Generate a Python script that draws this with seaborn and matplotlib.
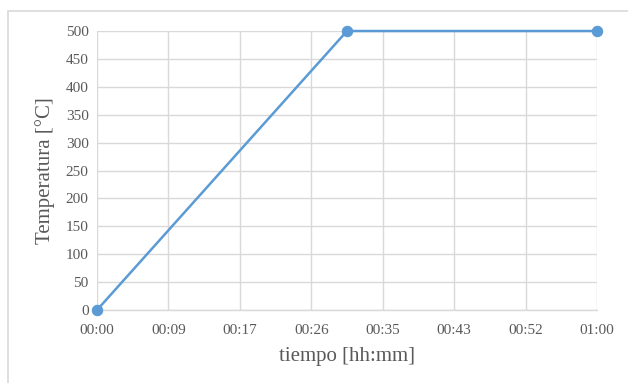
import numpy as np
import matplotlib
matplotlib.use("Agg")
import matplotlib.pyplot as plt
from matplotlib.patches import Rectangle
import seaborn as sns
import pandas as pd

# Heating profile: ramp to 500 °C in 30 min, then hold until 60 min
minutes = [0, 30, 60]
temperature = [0, 500, 500]
time_labels = ["00:00", "00:09", "00:17", "00:26", "00:35", "00:43", "00:52", "01:00"]
temp_ticks = [0, 50, 100, 150, 200, 250, 300, 350, 400, 450, 500]

sns.set_theme(style="white")
plt.rcParams["font.family"] = ["Liberation Serif", "DejaVu Serif"]

text_color = "#595959"
grid_color = "#D9D9D9"
line_color = "#5B9BD5"

df = pd.DataFrame({"min": minutes, "temp": temperature})

fig = plt.figure(figsize=(6.28, 3.83), dpi=100)
ax = fig.add_axes([0.1545, 0.1906, 0.796, 0.7284])

sns.lineplot(data=df, x="min", y="temp", ax=ax, color=line_color,
             linewidth=1.8, marker="o", markersize=7.5,
             markeredgecolor=line_color, markerfacecolor=line_color)
for line in ax.lines:
    line.set_clip_on(False)
    line.set_zorder(5)

ax.set_xlim(0, 60)
ax.set_ylim(0, 500)
ax.set_xticks(np.linspace(0, 60, len(time_labels)))
ax.set_xticklabels(time_labels)
ax.set_yticks(temp_ticks)

ax.grid(True, color=grid_color, linewidth=1)
ax.set_axisbelow(True)
for side in ["top", "right", "left"]:
    ax.spines[side].set_visible(False)
ax.spines["bottom"].set_color(grid_color)
ax.spines["bottom"].set_linewidth(1)

ax.tick_params(axis="both", length=0, labelsize=11, labelcolor=text_color)
ax.tick_params(axis="x", pad=10)
ax.tick_params(axis="y", pad=6)

ax.set_xlabel("tiempo [hh:mm]", fontsize=15, color=text_color, labelpad=7)
ax.set_ylabel("Temperatura [°C]", fontsize=15, color=text_color, labelpad=8)

# Chart frame
fig.patches.append(Rectangle((8 / 628, -0.1), 1.2, 1 - 11 / 383 + 0.1,
                             transform=fig.transFigure, fill=False,
                             edgecolor=grid_color, linewidth=1.2))

fig.savefig("out.png", dpi=100, facecolor="white")
